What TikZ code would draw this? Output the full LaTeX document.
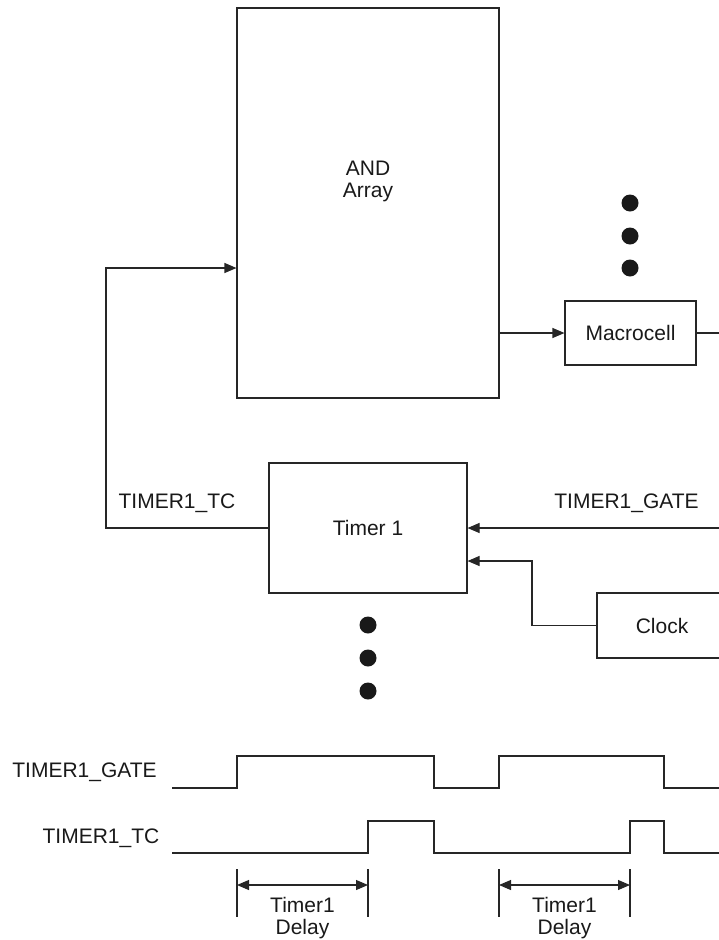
\documentclass[tikz,border=0pt]{standalone}
\usepackage{fontspec}
\setmainfont{Liberation Sans}
\usetikzlibrary{arrows.meta}
\begin{document}
\begin{tikzpicture}[x=1pt,y=-1pt,
  wire/.style={draw=black!85,line width=1.1pt},
  arr/.style={wire,-{Triangle[length=12pt,width=10pt]}},
  darr/.style={wire,{Triangle[length=12pt,width=10pt]}-{Triangle[length=12pt,width=10pt]}},
  blk/.style={draw=black!85,line width=1.1pt,rectangle,inner sep=0pt},
  txt/.style={font=\fontsize{21}{22}\selectfont,inner sep=0pt,align=center,text=black!90},
  dot/.style={circle,fill=black!90,inner sep=0pt,minimum size=17pt}]
\useasboundingbox (0,0) rectangle (719,940);
\clip (0,0) rectangle (719,940);
% blocks
\node[blk,minimum width=262pt,minimum height=390pt] (and) at (368,203) {};
\node[txt] (andtxt) at (368,181) {AND\\Array};
\node[blk,minimum width=131pt,minimum height=64pt,txt,draw=black!85,line width=1.1pt] (macro) at (630.5,333) {Macrocell};
\node[blk,minimum width=198pt,minimum height=130pt,txt,draw=black!85,line width=1.1pt] (timer) at (368,528) {Timer 1};
\node[blk,minimum width=130pt,minimum height=65pt,txt,draw=black!85,line width=1.1pt] (clock) at (662,625.5) {Clock};
% dots
\node[dot] (d1) at (630,203) {};
\node[dot] (d2) at (630,236) {};
\node[dot] (d3) at (630,268) {};
\node[dot] (d4) at (368,625) {};
\node[dot] (d5) at (368,658) {};
\node[dot] (d6) at (368,691) {};
% connectors
\coordinate (tcbend) at (106,268);
\draw[arr] (timer.west) -| (tcbend) -- (tcbend -| and.west);
\draw[arr] (and.east |- macro.west) -- (macro.west);
\coordinate (macroout) at (719,333);
\draw[wire] (macro.east) -- (macroout);
\coordinate (gatein) at (719,528);
\draw[arr] (gatein) -- (timer.east |- gatein);
\coordinate (clkbend) at (532,561);
\draw[arr] (clock.west) -| (clkbend) -- (clkbend -| timer.east);
\node[txt] (tclbl) at (177,503) {TIMER1\_TC};
\node[txt] (gatelbl) at (626.5,503) {TIMER1\_GATE};
% timing diagram
\node[txt] (wgate) at (84.5,772) {TIMER1\_GATE};
\node[txt] (wtc) at (101,838) {TIMER1\_TC};
\draw[wire] (172,788) -- (237,788) -- (237,756) -- (434,756) -- (434,788) -- (499,788) -- (499,756) -- (664,756) -- (664,788) -- (719,788);
\draw[wire] (172,853) -- (368,853) -- (368,821) -- (434,821) -- (434,853) -- (630,853) -- (630,821) -- (664,821) -- (664,853) -- (719,853);
\coordinate (t1a) at (237,869); \coordinate (t1b) at (237,917);
\coordinate (t2a) at (368,869); \coordinate (t2b) at (368,917);
\coordinate (t3a) at (499,869); \coordinate (t3b) at (499,917);
\coordinate (t4a) at (630,869); \coordinate (t4b) at (630,917);
\draw[wire] (t1a) -- (t1b);
\draw[wire] (t2a) -- (t2b);
\draw[wire] (t3a) -- (t3b);
\draw[wire] (t4a) -- (t4b);
\coordinate (a1) at (237,885); \coordinate (a2) at (368,885);
\coordinate (a3) at (499,885); \coordinate (a4) at (630,885);
\draw[darr] (a1) -- (a2);
\draw[darr] (a3) -- (a4);
\node[txt] (dl1) at (302.5,918.5) {Timer1\\Delay};
\node[txt] (dl2) at (564.5,918.5) {Timer1\\Delay};
\end{tikzpicture}
\end{document}
